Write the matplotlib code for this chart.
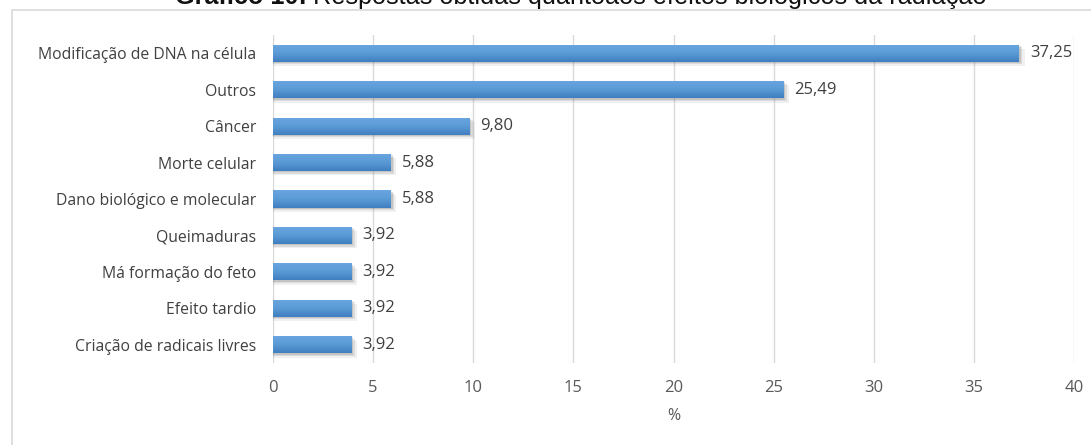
import matplotlib
matplotlib.use("Agg")
import matplotlib.pyplot as plt
import numpy as np
from matplotlib.patches import Rectangle
from matplotlib.colors import LinearSegmentedColormap

categories = [
    "Modificação de DNA na célula",
    "Outros",
    "Câncer",
    "Morte celular",
    "Dano biológico e molecular",
    "Queimaduras",
    "Má formação do feto",
    "Efeito tardio",
    "Criação de radicais livres",
]
values = [37.25, 25.49, 9.80, 5.88, 5.88, 3.92, 3.92, 3.92, 3.92]
value_labels = ["37,25", "25,49", "9,80", "5,88", "5,88", "3,92", "3,92", "3,92", "3,92"]
x_ticks = [0, 5, 10, 15, 20, 25, 30, 35, 40]

W, H = 1091, 445
fig = plt.figure(figsize=(W / 100, H / 100), dpi=100)
fig.patch.set_facecolor("white")

# chart frame (runs off the right and bottom edges)
fig.patches.append(Rectangle((12 / W, -0.1), 1.2, (H - 10) / H + 0.1,
                             transform=fig.transFigure, fill=False,
                             edgecolor="#d9d9d9", linewidth=1.2, zorder=0))

# title, partly above the top edge
title_y = 1 - 4 / H
t1 = fig.text(175 / W, title_y, "Gráfico 10:", fontsize=18.2, fontweight="bold",
              family="Liberation Sans", color="#111111", va="baseline", ha="left")
fig.canvas.draw()
bb = t1.get_window_extent()
fig.text(bb.x1 / W + 6 / W, title_y,
         "Respostas obtidas quantoaos efeitos biológicos da radiação",
         fontsize=18.2, family="Liberation Sans", color="#111111",
         va="baseline", ha="left")

ax = fig.add_axes([273 / W, 1 - 363 / H, (1074 - 273) / W, (363 - 35) / H])
ax.set_xlim(0, 40)
n = len(categories)
ypos = np.arange(n)
ax.set_ylim(n - 0.5, -0.5)

bar_h = 0.47
# soft drop shadow
for dx, dy, a in [(0.28, 0.12, 0.10), (0.17, 0.07, 0.16), (0.09, 0.035, 0.22)]:
    ax.barh(ypos + dy, values, height=bar_h, left=0, color="#6f6f6f",
            alpha=a, zorder=2, linewidth=0)
    for v, y in zip(values, ypos):
        ax.barh(y + dy, dx, height=bar_h, left=v, color="#6f6f6f",
                alpha=a, zorder=2, linewidth=0)

bars = ax.barh(ypos, values, height=bar_h, color="#5b9bd5", zorder=3, linewidth=0)

# vertical gradient fill inside each bar
cmap = LinearSegmentedColormap.from_list("bar", ["#6aa6e0", "#5b9bd5", "#3f7fc0"])
grad = np.linspace(0, 1, 64).reshape(-1, 1)
for b in bars:
    x0, y0 = b.get_x(), b.get_y()
    w, h = b.get_width(), b.get_height()
    im = ax.imshow(grad, extent=(x0, x0 + w, y0 + h, y0), aspect="auto",
                   cmap=cmap, zorder=4, interpolation="bicubic")
    im.set_clip_path(b)

label_font = "Open Sans"
for v, y, s in zip(values, ypos, value_labels):
    ax.text(v + 0.55, y, s, va="center", ha="left", fontsize=12,
            family=label_font, color="#404040", zorder=5)

ax.set_xticks(x_ticks)
ax.set_xticklabels([str(t) for t in x_ticks], family=label_font,
                   fontsize=12, color="#595959")
ax.set_yticks(ypos)
ax.set_yticklabels(categories, family=label_font, fontsize=11.3, color="#404040")
ax.tick_params(axis="both", length=0)
ax.tick_params(axis="x", pad=12)
ax.tick_params(axis="y", pad=12)
ax.grid(axis="x", color="#d9d9d9", linewidth=1.0, zorder=0)
ax.set_axisbelow(True)
for sp in ax.spines.values():
    sp.set_visible(False)
ax.set_xlabel("%", family=label_font, fontsize=11.5, color="#595959", labelpad=9)

fig.savefig("out.png", dpi=100, facecolor="white")
